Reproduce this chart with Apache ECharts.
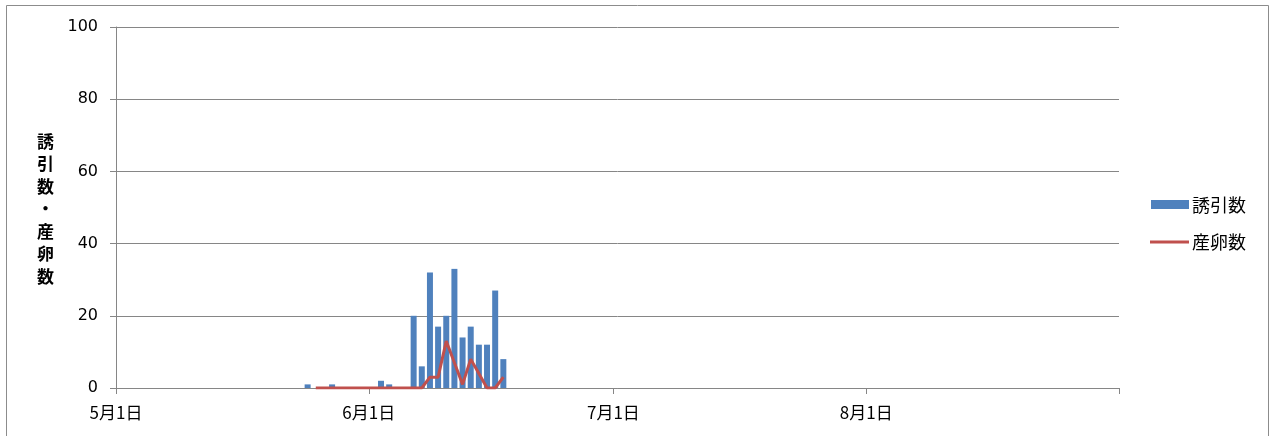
<!DOCTYPE html>
<html>
<head>
<meta charset="utf-8">
<script src="https://cdn.jsdelivr.net/npm/echarts@6/dist/echarts.min.js"></script>
<style>
html,body{margin:0;padding:0;background:#fff;}
#c{width:1274px;height:436px;}
</style>
</head>
<body>
<div id="c"></div>
<script>
// ---- data ----
const monthTicks = ['5月1日', '6月1日', '7月1日', '8月1日'];
const barDates = ['5/24','5/27','6/2','6/3','6/6','6/7','6/8','6/9','6/10','6/11','6/12','6/13','6/14','6/15','6/16','6/17'];
const barValues = [1,1,2,1,20,6,32,17,20,33,14,17,12,12,27,8];
const lineDates = ['5/25','5/26','5/27','5/28','5/29','5/30','5/31','6/1','6/2','6/3','6/4','6/5','6/6','6/7','6/8','6/9','6/10','6/11','6/12','6/13','6/14','6/15','6/16','6/17'];
const lineValues = [0,0,0,0,0,0,0,0,0,0,0,0,0,0,3,3,13,7,1,8,4,0,0,3];
const yTicks = [0, 20, 40, 60, 80, 100];
const seriesNames = ['誘引数', '産卵数'];
const yTitle = '誘引数・産卵数';

// ---- helpers: days since May 1 (axis spans May 1 .. Aug 31) ----
const monthStart = {5: 0, 6: 31, 7: 61, 8: 92};
const totalDays = 123;
function dayIdx(md) {
  const [m, d] = md.split('/').map(Number);
  return monthStart[m] + d - 1;
}
const tickPos = [monthStart[5], monthStart[6], monthStart[7], monthStart[8]];

const barData = barDates.map((d, i) => [dayIdx(d) + 0.5, barValues[i]]);
const lineData = lineDates.map((d, i) => [dayIdx(d) + 0.5, lineValues[i]]);

const barColor = '#4F81BD';
const lineColor = '#C0504D';
const axisGray = '#868686';
const legendFont = '18px "Noto Sans CJK JP"';

const chart = echarts.init(document.getElementById('c'));
chart.setOption({
  animation: false,
  backgroundColor: '#fff',
  grid: {left: 116, right: 155, top: 27, bottom: 48, containLabel: false},
  xAxis: {
    type: 'value',
    min: 0,
    max: totalDays,
    axisLine: {show: true, lineStyle: {color: axisGray, width: 1}},
    axisTick: {show: true, length: 6, customValues: tickPos.concat([totalDays]), lineStyle: {color: axisGray}},
    axisLabel: {
      customValues: tickPos,
      margin: 16,
      fontSize: 17,
      color: '#000',
      fontFamily: 'Noto Sans CJK JP',
      formatter: function (v) {
        const i = tickPos.indexOf(Math.round(v));
        return i >= 0 ? monthTicks[i] : '';
      }
    },
    splitLine: {show: false}
  },
  yAxis: {
    type: 'value',
    min: yTicks[0],
    max: yTicks[yTicks.length - 1],
    interval: 20,
    axisLine: {show: true, lineStyle: {color: axisGray, width: 1}},
    axisTick: {show: true, length: 6, lineStyle: {color: axisGray}},
    axisLabel: {fontSize: 16, color: '#000', margin: 18, fontFamily: 'DejaVu Sans'},
    splitLine: {show: true, lineStyle: {color: axisGray, width: 1}}
  },
  legend: {show: false},
  graphic: [
    {type: 'rect', shape: {x: 6.5, y: 5.5, width: 1262, height: 450}, style: {fill: 'none', stroke: '#8c8c8c', lineWidth: 1}, silent: true},
    {type: 'text', left: 37, top: 130, style: {text: yTitle.split('').join('\n'), font: 'bold 17px "Noto Sans CJK JP"', lineHeight: 22.5, fill: '#000', align: 'center'}},
    {type: 'rect', shape: {x: 1151, y: 200, width: 38, height: 9}, style: {fill: barColor}},
    {type: 'text', x: 1192, y: 205, style: {text: seriesNames[0], font: legendFont, fill: '#000', verticalAlign: 'middle'}},
    {type: 'line', shape: {x1: 1150, y1: 242, x2: 1189, y2: 242}, style: {stroke: lineColor, lineWidth: 3}},
    {type: 'text', x: 1192, y: 242, style: {text: seriesNames[1], font: legendFont, fill: '#000', verticalAlign: 'middle'}}
  ],
  series: [
    {
      name: seriesNames[0],
      type: 'bar',
      data: barData,
      barWidth: 6,
      itemStyle: {color: barColor}
    },
    {
      name: seriesNames[1],
      type: 'line',
      data: lineData,
      symbol: 'none',
      lineStyle: {color: lineColor, width: 3},
      itemStyle: {color: lineColor}
    }
  ]
});
</script>
</body>
</html>
